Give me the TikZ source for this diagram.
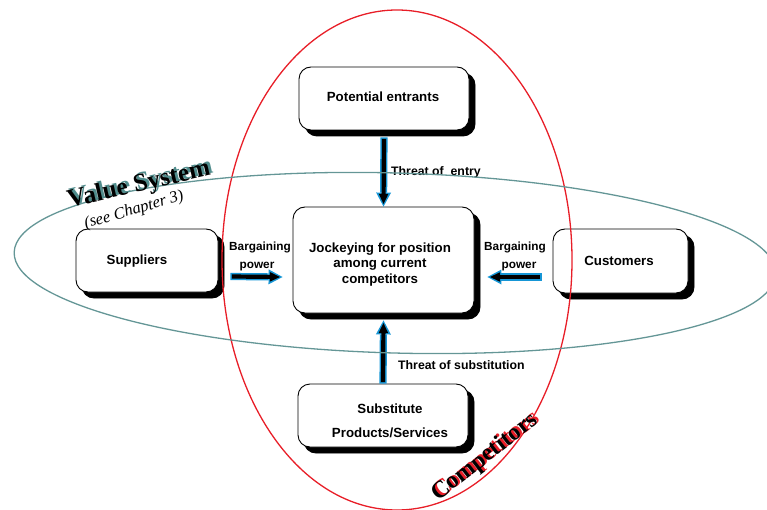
\documentclass[tikz,border=0pt]{standalone}
\usepackage{fontspec}
\setmainfont{Liberation Serif}
\setsansfont{Liberation Sans}
\usetikzlibrary{arrows.meta,shadows,calc}

\definecolor{arrowblue}{RGB}{22,150,214}
\definecolor{vsteal}{RGB}{100,150,150}
\definecolor{vsshade}{RGB}{80,140,140}
\definecolor{compred}{RGB}{232,30,40}

\tikzset{
  force/.style={draw=black, line width=0.9pt, fill=white, rounded corners=12pt,
    inner sep=0pt,
    copy shadow={shadow xshift=6pt, shadow yshift=-6pt, fill=black, draw=black}},
  boxtext/.style={font=\sffamily\bfseries\fontsize{13.3pt}{15.5pt}\selectfont, inner sep=0pt, align=center},
  flowlabel/.style={font=\sffamily\bfseries\fontsize{11.8pt}{13pt}\selectfont, inner sep=0pt},
  threatlabel/.style={font=\sffamily\bfseries\fontsize{12.3pt}{14pt}\selectfont, inner sep=0pt, anchor=west},
  fatarrow/.style={line width=4.2pt, draw=black, shorten <=1.5pt, shorten >=2.6pt,
    -{Triangle[length=10pt,width=9.5pt,line width=0pt]},
    preaction={draw=arrowblue, line width=7.2pt, shorten <=0pt, shorten >=0pt,
      -{Triangle[length=14pt,width=15pt,line width=0pt]}}},
  titlefont/.style={font=\rmfamily\bfseries\fontsize{25.5pt}{27pt}\selectfont, inner sep=0pt},
  compfont/.style={font=\rmfamily\bfseries\fontsize{24pt}{26pt}\selectfont, inner sep=0pt}
}

\begin{document}
\begin{tikzpicture}[x=1pt,y=-1pt]
\useasboundingbox (0,0) rectangle (767,510);

% the five forces
\node[force, minimum width=170pt, minimum height=63pt] (pot) at (384,98.5) {};
\node[force, minimum width=181pt, minimum height=106pt] (joc) at (383.5,260) {};
\node[force, minimum width=142pt, minimum height=63pt] (sup) at (147,260.5) {};
\node[force, minimum width=135pt, minimum height=64pt] (cus) at (620.5,261) {};
\node[force, minimum width=170pt, minimum height=63pt] (sub) at (383,415.5) {};

\node[boxtext] (potT) at (383,97) {Potential entrants};
\node[boxtext] (jocT) at (380,264.5) {Jockeying for position\\among current\\competitors};
\node[boxtext] (supT) at (137,261) {Suppliers};
\node[boxtext] (cusT) at (619,261) {Customers};
\node[boxtext, font=\sffamily\bfseries\fontsize{13.3pt}{24pt}\selectfont] (subT) at (390,421) {Substitute\\Products/Services};

% forces acting on the industry
\draw[fatarrow] ([yshift=-7pt]pot.south) -- (joc.north);
\draw[fatarrow] (sub.north) -- ([yshift=-7pt]joc.south);
\draw[fatarrow] ($(sup.east)+(12,16)$) -- ($(joc.west)+(-10,17)$);
\draw[fatarrow] ($(cus.west)+(-11,16)$) -- ($(joc.east)+(13,17)$);

\node[threatlabel] (entryL) at (391,172) {Threat of~ entry};
\node[threatlabel] (substL) at (398,365) {Threat of substitution};
\node[flowlabel] (bargL1) at (260,247) {Bargaining};
\node[flowlabel] (bargL2) at (257,267) {power};
\node[flowlabel] (bargR1) at (515,247) {Bargaining};
\node[flowlabel] (bargR2) at (519,267) {power};

% competitors and value system outlines
\draw[compred, line width=1.3pt] (397,260) ellipse [x radius=175, y radius=250];
\begin{scope}[shift={(395,263)}, rotate=-1.6]
  \draw[vsteal, line width=1.3pt] (0,0) ellipse [x radius=381, y radius=90];
\end{scope}

% titles with coloured drop shadows
\node[titlefont, text=vsshade, rotate=13] at (141.5,183.5) {Value System};
\node[titlefont, rotate=13] (vsT) at (139,185.5) {Value System};
\node[font=\rmfamily\itshape\fontsize{16.5pt}{18pt}\selectfont, inner sep=0pt, rotate=16] (chT) at (134,210.5) {(see Chapter 3)};
\node[compfont, text=compred, rotate=38] at (487,456) {Competitors};
\node[compfont, rotate=38] (compT) at (485,457.5) {Competitors};
\end{tikzpicture}
\end{document}
